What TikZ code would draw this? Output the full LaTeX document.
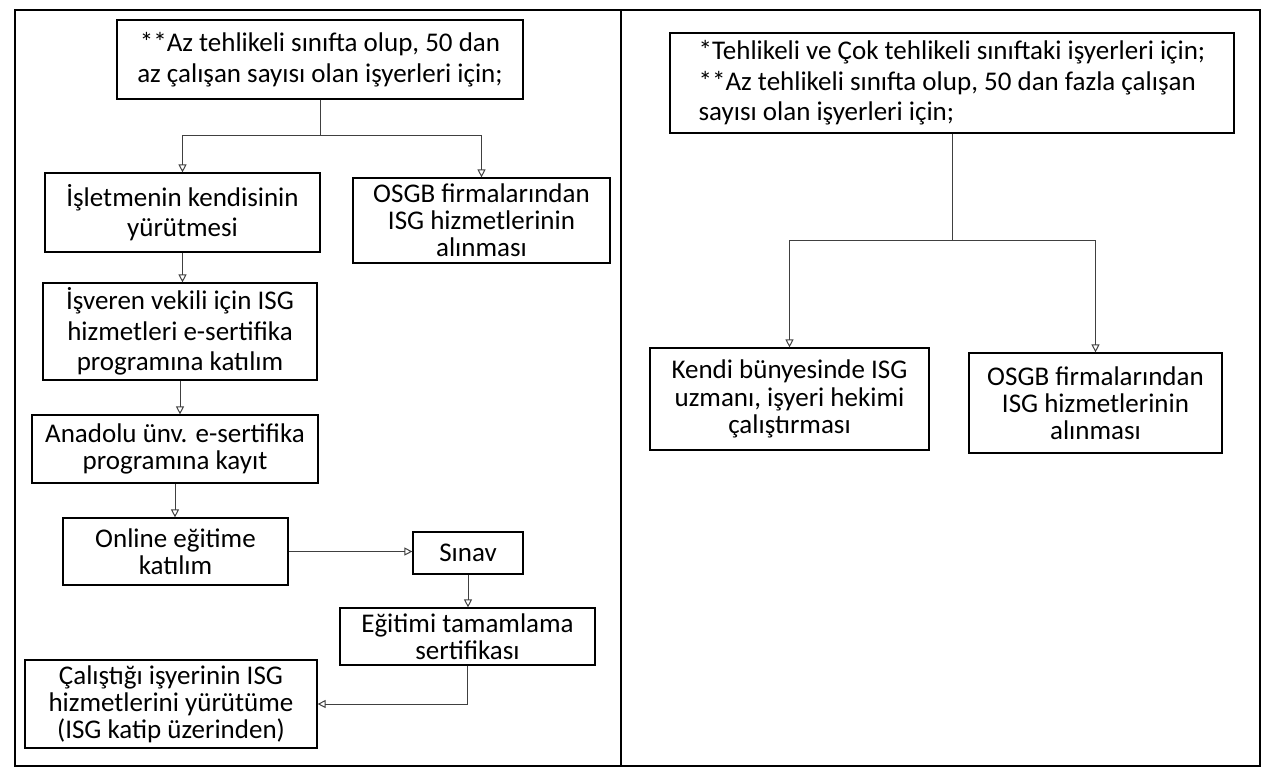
\documentclass[tikz,border=0pt]{standalone}
\usepackage{fontspec}
\setmainfont{Carlito}
\usetikzlibrary{arrows.meta}
\newlength{\boxline}
\setlength{\boxline}{0.6pt}
\tikzset{
  flowbox/.style={draw,line width=\boxline,align=center,inner sep=0.5pt,
    font=\fontsize{13.5}{13.6}\selectfont},
  widebox/.style={flowbox,font=\fontsize{13.5}{15.2}\selectfont},
  flowline/.style={draw=black!75,line width=0.5pt},
  flowarrow/.style={flowline,-{Triangle[open,length=4pt,width=4pt]}}
}

\begin{document}
\begin{tikzpicture}[x=0.5pt,y=-0.5pt]
            \useasboundingbox (0,0) rectangle (1269,778);
            \draw[line width=1.3pt] (15,10) rectangle (1260,766);
            \draw[line width=1.3pt] (621,10)--(621,766);
            % left column
            \node[widebox,minimum width=203pt,minimum height=39.5pt] (T1) at (320,59.5) {**Az tehlikeli sınıfta olup, 50 dan\\az çalışan sayısı olan işyerleri için;};
            \node[widebox,minimum width=137.5pt,minimum height=39.5pt] (A1) at (182.5,212.5) {İşletmenin kendisinin\\yürütmesi};
            \node[flowbox,minimum width=128.5pt,minimum height=42.5pt] (A2) at (481.5,220.5) {OSGB firmalarından\\ISG hizmetlerinin\\alınması};
            \node[widebox,minimum width=137pt,minimum height=48.5pt] (A3) at (180,331.5) {İşveren vekili için ISG\\hizmetleri e-sertifika\\programına katılım};
            \node[flowbox,minimum width=143pt,minimum height=34pt] (A4) at (175,449) {Anadolu ünv. e-sertifika\\programına kayıt};
            \node[flowbox,minimum width=112.5pt,minimum height=33.5pt] (A5) at (175.5,551.5) {Online eğitime\\katılım};
            \node[flowbox,minimum width=55pt,minimum height=21pt] (A6) at (468,553) {Sınav};
            \node[flowbox,minimum width=127.5pt,minimum height=28.5pt] (A7) at (467.5,636.5) {Eğitimi tamamlama\\sertifikası};
            \node[flowbox,minimum width=146pt,minimum height=44pt] (A8) at (171,704) {Çalıştığı işyerinin ISG\\hizmetlerini yürütüme\\(ISG katip üzerinden)};
            \draw[flowline] (T1.south) -- ++(0,36) coordinate (t1j);
            \draw[flowarrow] (t1j) -| (A1.north);
            \draw[flowarrow] (t1j) -| (A2.north);
            \draw[flowarrow] (A1.south) -- (A1.south |- A3.north);
            \draw[flowarrow] (A3.south) -- (A3.south |- A4.north);
            \draw[flowarrow] (A4.south) -- (A4.south |- A5.north);
            \draw[flowarrow] (A5.east) -- (A5.east -| A6.west);
            \draw[flowarrow] (A6.south) -- (A6.south |- A7.north);
            \draw[flowarrow] (A7.south) |- (A8.east);
            % right column
            \node[widebox,align=left,minimum width=282pt,minimum height=50pt] (T2) at (952,83) {*Tehlikeli ve Çok tehlikeli sınıftaki işyerleri için;\\**Az tehlikeli sınıfta olup, 50 dan fazla çalışan\\sayısı olan işyerleri için;};
            \node[flowbox,minimum width=139.5pt,minimum height=51pt] (K1) at (789.5,399) {Kendi bünyesinde ISG\\uzmanı, işyeri hekimi\\çalıştırması};
            \node[flowbox,minimum width=126.5pt,minimum height=50pt] (K2) at (1095.5,403) {OSGB firmalarından\\ISG hizmetlerinin\\alınması};
            \draw[flowline] (T2.south) -- ++(0,107) coordinate (t2j);
            \draw[flowarrow] (t2j) -| (K1.north);
            \draw[flowarrow] (t2j) -| (K2.north);
\end{tikzpicture}
\end{document}
